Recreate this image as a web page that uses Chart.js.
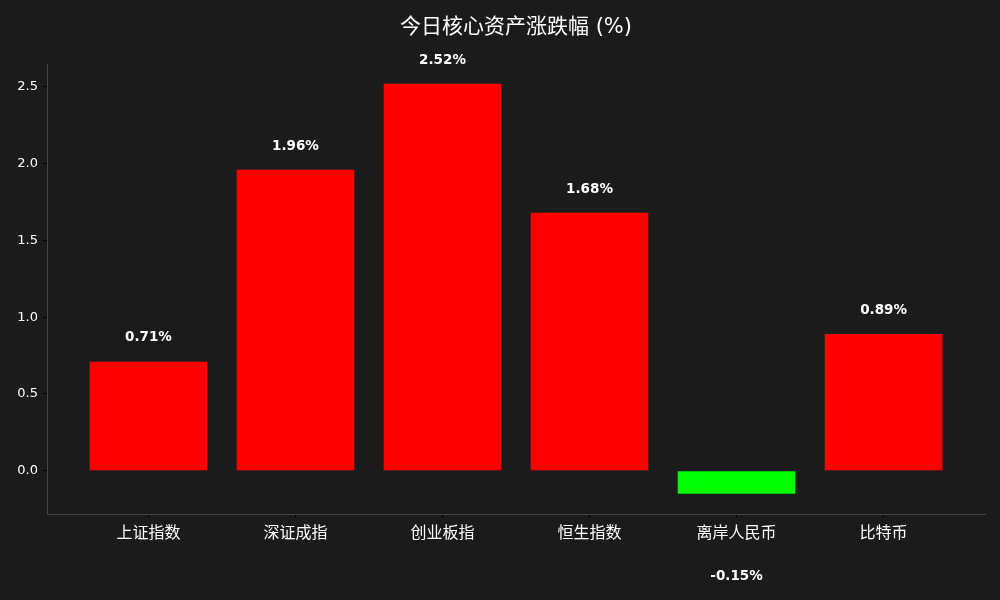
<!DOCTYPE html>
<html>
<head>
<meta charset="utf-8">
<script src="https://cdn.jsdelivr.net/npm/chart.js@4.4.1/dist/chart.umd.min.js"></script>
<style>
  html, body { margin: 0; padding: 0; background: #1b1b1b; }
  #wrap { width: 1000px; height: 600px; }
</style>
</head>
<body>
<div id="wrap"><canvas id="chart"></canvas></div>
<script>
// 数据
var categories = ["上证指数", "深证成指", "创业板指", "恒生指数", "离岸人民币", "比特币"]
var changes = [0.71, 1.96, 2.52, 1.68, -0.15, 0.89]
var yTicks = [0.0, 0.5, 1.0, 1.5, 2.0, 2.5]

var FONT = "'DejaVu Sans', 'Noto Sans CJK SC', sans-serif"
var UP = "#ff0000"
var DOWN = "#00ff00"

// 柱子上方的数值标签
var valueLabels = {
  id: "valueLabels",
  afterDatasetsDraw: function (chart) {
    var ctx = chart.ctx
    var meta = chart.getDatasetMeta(0)
    var y = chart.scales.y
    ctx.save()
    ctx.font = "bold 13.5px " + FONT
    ctx.fillStyle = "#ffffff"
    ctx.textAlign = "center"
    ctx.textBaseline = "middle"
    for (var i = 0; i < changes.length; i++) {
      var v = changes[i]
      var pos = v >= 0 ? v + 0.155 : v - 0.54
      ctx.fillText(v.toFixed(2) + "%", meta.data[i].x, y.getPixelForValue(pos))
    }
    ctx.restore()
  }
}

var ctx = document.getElementById("chart").getContext("2d")
new Chart(ctx, {
  type: "bar",
  data: {
    datasets: [{
      data: changes.map(function (v, i) { return { x: i, y: v } }),
      backgroundColor: changes.map(function (v) { return v >= 0 ? UP : DOWN }),
      borderWidth: 0,
      barPercentage: 0.8,
      categoryPercentage: 1.0
    }]
  },
  options: {
    responsive: true,
    maintainAspectRatio: false,
    animation: false,
    layout: { padding: { top: 0, right: 15, bottom: 0, left: 0 } },
    plugins: {
      legend: { display: false },
      tooltip: { enabled: false },
      title: {
        display: true,
        fullSize: false,
        text: "今日核心资产涨跌幅 (%)",
        color: "#ffffff",
        font: { family: FONT, size: 21, weight: "normal" },
        padding: { top: 15, bottom: 24 }
      }
    },
    scales: {
      x: {
        type: "linear",
        offset: false,
        min: -0.69,
        max: categories.length - 1 + 0.69,
        afterBuildTicks: function (axis) {
          axis.ticks = categories.map(function (c, i) { return { value: i } })
        },
        ticks: {
          color: "#ffffff",
          font: { family: FONT, size: 16 },
          padding: 6,
          autoSkip: false,
          maxRotation: 0,
          callback: function (value) { return categories[value] }
        },
        grid: { offset: false, drawOnChartArea: false, color: "#000000", tickLength: 4 },
        border: { color: "#444444" },
        afterFit: function (axis) { axis.height = 86 }
      },
      y: {
        min: -0.282,
        max: 2.648,
        afterBuildTicks: function (axis) {
          axis.ticks = yTicks.map(function (v) { return { value: v } })
        },
        ticks: {
          color: "#ffffff",
          font: { family: FONT, size: 13 },
          padding: 5,
          callback: function (value) { return value.toFixed(1) }
        },
        grid: { drawOnChartArea: false, color: "#000000", tickLength: 4 },
        border: { color: "#444444" },
        afterFit: function (axis) { axis.width = 47 }
      }
    }
  },
  plugins: [valueLabels]
})
</script>
</body>
</html>
